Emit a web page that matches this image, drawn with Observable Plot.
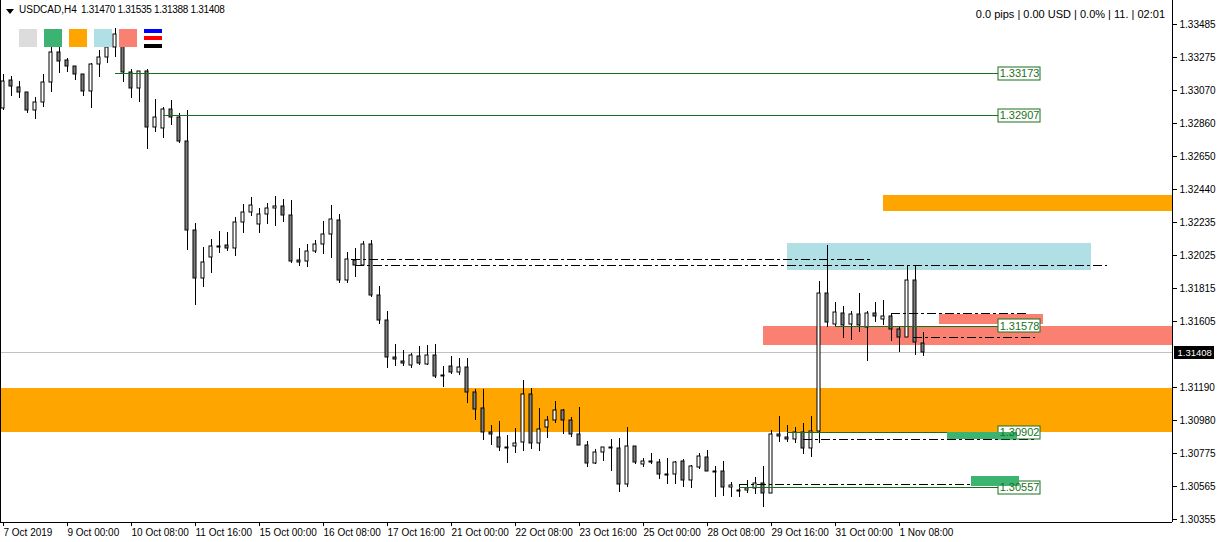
<!DOCTYPE html>
<html><head><meta charset="utf-8">
<script src="https://cdn.jsdelivr.net/npm/d3@7"></script>
<script src="https://cdn.jsdelivr.net/npm/@observablehq/plot@0.6"></script>
<style>
body{margin:0;background:#fff;font-family:"Liberation Sans",Arial,sans-serif;}
#wrap{position:relative;width:1217px;height:542px;overflow:hidden;}
#wrap svg{display:block;}
.ov{position:absolute;color:#000;white-space:pre;}
.sq{position:absolute;top:29px;width:18px;height:18px;}
</style></head>
<body><div id="wrap"></div>
<script>
const symbolTitle = "USDCAD,H4";
const ohlcTitle = "1.31470 1.31535 1.31388 1.31408";
const infoText = "0.0 pips | 0.00 USD | 0.0% | 11. | 02:01";

const opens = [1.32954,1.33131,1.33087,1.33055,1.32942,1.32992,1.33119,1.33308,1.33258,1.33220,
1.33169,1.33062,1.33232,1.33277,1.33340,1.33384,1.33182,1.33081,1.33188,1.32834,
1.32828,1.32948,1.32897,1.32746,1.32182,1.31879,1.32012,1.32081,1.32088,1.32069,
1.32233,1.32296,1.32220,1.32283,1.32321,1.32334,1.32277,1.31993,1.31987,1.32050,
1.32094,1.32157,1.32246,1.31866,1.31993,1.31961,1.32094,1.31771,1.31614,1.31379,
1.31354,1.31329,1.31386,1.31335,1.31392,1.31266,1.31322,1.31285,1.31316,1.31158,
1.31057,1.30906,1.30874,1.30811,1.30817,1.30842,1.31146,1.30836,1.30937,1.30982,
1.31045,1.30982,1.30893,1.30823,1.30710,1.30779,1.30811,1.30804,1.30577,1.30817,
1.30703,1.30722,1.30716,1.30640,1.30640,1.30722,1.30602,1.30684,1.30748,1.30659,
1.30659,1.30558,1.30539,1.30539,1.30551,1.30583,1.30520,1.30893,1.30874,1.30861,
1.30906,1.30804,1.30912,1.31784,1.31588,1.31658,1.31588,1.31651,1.31569,1.31658,
1.31620,1.31639,1.31557,1.31506,1.31866,1.31470];

const highs = [1.33169,1.33156,1.33125,1.33055,1.33024,1.33169,1.33365,1.33365,1.33270,1.33220,
1.33169,1.33239,1.33321,1.33428,1.33460,1.33447,1.33201,1.33188,1.33201,1.33011,
1.32961,1.33005,1.32923,1.32942,1.32227,1.32075,1.32125,1.32176,1.32170,1.32264,
1.32347,1.32392,1.32321,1.32353,1.32398,1.32379,1.32372,1.32069,1.32094,1.32119,
1.32239,1.32340,1.32283,1.32044,1.32069,1.32113,1.32119,1.31828,1.31670,1.31462,
1.31424,1.31405,1.31449,1.31455,1.31462,1.31322,1.31386,1.31373,1.31373,1.31177,
1.31177,1.30950,1.30975,1.30887,1.30931,1.31234,1.31184,1.31057,1.31007,1.31102,
1.31051,1.31000,1.31064,1.30849,1.30798,1.30811,1.30861,1.30868,1.30937,1.30817,
1.30741,1.30773,1.30735,1.30741,1.30722,1.30735,1.30697,1.30773,1.30792,1.30691,
1.30722,1.30589,1.30577,1.30602,1.30621,1.30691,1.30918,1.31007,1.30950,1.30937,
1.30963,1.31007,1.31860,1.32088,1.31727,1.31702,1.31670,1.31784,1.31670,1.31727,
1.31740,1.31658,1.31569,1.31961,1.31961,1.31535];

const lows = [1.32942,1.33030,1.33017,1.32923,1.32885,1.32961,1.33055,1.33175,1.33182,1.33131,
1.33030,1.32954,1.33150,1.33239,1.33277,1.33119,1.33017,1.32992,1.32695,1.32803,
1.32765,1.32847,1.32734,1.32056,1.31708,1.31822,1.31911,1.32037,1.32050,1.32018,
1.32163,1.32271,1.32163,1.32220,1.32208,1.32233,1.31974,1.31955,1.31949,1.32037,
1.32031,1.32006,1.31847,1.31847,1.31885,1.31955,1.31759,1.31588,1.31310,1.31322,
1.31322,1.31310,1.31329,1.31329,1.31247,1.31190,1.31272,1.31266,1.31089,1.30982,
1.30855,1.30823,1.30785,1.30710,1.30773,1.30785,1.30798,1.30785,1.30868,1.30963,
1.30893,1.30874,1.30823,1.30684,1.30703,1.30722,1.30659,1.30526,1.30558,1.30703,
1.30684,1.30703,1.30608,1.30577,1.30577,1.30558,1.30551,1.30672,1.30659,1.30494,
1.30501,1.30494,1.30494,1.30520,1.30513,1.30431,1.30520,1.30842,1.30842,1.30836,
1.30767,1.30748,1.30836,1.31569,1.31576,1.31500,1.31487,1.31538,1.31354,1.31601,
1.31582,1.31481,1.31411,1.31506,1.31392,1.31388];

const closes = [1.33125,1.33093,1.33055,1.32942,1.32992,1.33119,1.33308,1.33251,1.33220,1.33169,
1.33062,1.33232,1.33277,1.33340,1.33422,1.33182,1.33081,1.33188,1.32834,1.32897,
1.32948,1.32897,1.32746,1.32182,1.31879,1.31980,1.32081,1.32075,1.32069,1.32233,
1.32296,1.32340,1.32283,1.32321,1.32334,1.32277,1.31987,1.31980,1.32050,1.32094,
1.32157,1.32252,1.31866,1.31999,1.31961,1.32094,1.31771,1.31614,1.31379,1.31367,
1.31341,1.31392,1.31341,1.31392,1.31259,1.31259,1.31285,1.31316,1.31158,1.31051,
1.30906,1.30893,1.30811,1.30811,1.30836,1.31146,1.30836,1.30925,1.30982,1.31045,
1.30982,1.30893,1.30823,1.30710,1.30779,1.30811,1.30811,1.30577,1.30817,1.30716,
1.30722,1.30722,1.30640,1.30640,1.30716,1.30602,1.30691,1.30754,1.30659,1.30659,
1.30558,1.30570,1.30539,1.30551,1.30583,1.30520,1.30893,1.30880,1.30861,1.30906,
1.30804,1.30912,1.31784,1.31601,1.31664,1.31582,1.31651,1.31582,1.31658,1.31639,
1.31639,1.31557,1.31506,1.31866,1.31475,1.31408];

const xTickBars = [0,8,16,24,32,40,48,56,64,72,80,88,96,104,112];
const xTickLabels = ["7 Oct 2019","9 Oct 00:00","10 Oct 08:00","11 Oct 16:00","15 Oct 00:00","16 Oct 08:00","17 Oct 16:00","21 Oct 00:00","22 Oct 08:00","23 Oct 16:00","25 Oct 00:00","28 Oct 08:00","29 Oct 16:00","31 Oct 00:00","1 Nov 08:00"];
const yTicks = [1.33485,1.33275,1.33070,1.32860,1.32650,1.32440,1.32235,1.32025,1.31815,1.31605,1.31190,1.30980,1.30775,1.30565,1.30355];

const levels = [1.33173,1.32907,1.31578,1.30902,1.30557];
const levelStart = [14,20,104,98,92];

const zoneX1 = [-1,110,98,95,117,118,121];
const zoneX2 = [150,150,136,150,130,126.75,127];
const zoneTop = [1.31184,1.32404,1.32100,1.31576,1.31651,1.30906,1.30627];
const zoneBottom = [1.30906,1.32302,1.31929,1.31455,1.31588,1.30861,1.30564];
const zoneColor = ["#FFA500","#FFA500","#B0E0E6","#FA8072","#FA8072","#3CB371","#3CB371"];

const dashY = [1.31999,1.31961,1.31658,1.31506,1.30861,1.30577];
const dashX1 = [43.5,44,111,113.75,100,92];
const dashX2 = [108.4,138,128,129,129,128.75];

// ---- build tables
const bars = opens.map((o,i)=>({i, o, h:highs[i], l:lows[i], c:closes[i]}));
const lastClose = closes[closes.length-1];
const xDomain = [-0.375, 146.125];
const yDomain = [1.30336, 1.33637];
const W = 1217, H = 542, mR = 45, mB = 20;
const pxPrice = (yDomain[1]-yDomain[0]) / (H - mB);
const labelMap = new Map(xTickBars.map((b,i)=>[b, xTickLabels[i]]));
const fmt = d3.format(".5f");
const zones = zoneX1.map((x1,i)=>({x1, x2:zoneX2[i], y1:zoneTop[i], y2:zoneBottom[i], fill:zoneColor[i]}));
const bgZones = zones.filter(z=>z.fill!=="#3CB371");
const fgZones = zones.filter(z=>z.fill==="#3CB371");
const levelRows = levels.map((y,i)=>({y, start:levelStart[i]}));
const boxX1 = 124.375, boxX2 = 129.625;
const dashRows = dashY.map((y,i)=>({y, x1:dashX1[i], x2:dashX2[i]}));
const green = "#1a701a";

const chart = Plot.plot({
  width: W, height: H,
  marginLeft: 0, marginRight: mR, marginTop: 0, marginBottom: mB,
  x: {type:"linear", domain: xDomain, round: true},
  y: {domain: yDomain, round: true},
  style: {fontFamily: "'Liberation Sans', Arial, sans-serif", fontSize: "10px", background: "white", color: "black", overflow: "visible"},
  marks: [
    Plot.rect(bgZones, {x1:"x1", x2:"x2", y1:"y1", y2:"y2", fill:"fill", clip:true}),
    Plot.ruleY([lastClose], {stroke:"#c0c0c0"}),
    Plot.ruleX(bars, {x:"i", y1:"l", y2:"h", stroke:"black"}),
    Plot.rect(bars, {
      x1: d=>d.i-0.25, x2: d=>d.i+0.125,
      y1: "o",
      y2: d=> Math.abs(d.c-d.o) < pxPrice ? d.o - pxPrice : d.c,
      fill: d=> d.c > d.o ? "white" : "#808080",
      stroke: "black", strokeWidth: 1
    }),
    Plot.ruleY(levelRows, {y:"y", x1:"start", x2: boxX1, stroke: green}),
    Plot.ruleY(dashRows, {y:"y", x1:"x1", x2:"x2", stroke:"black", strokeDasharray:"9,3,3,3"}),
    Plot.rect(levelRows, {x1: boxX1, x2: boxX2, y1: d=>d.y - 6.5*pxPrice, y2: d=>d.y + 6.5*pxPrice, fill:"white", stroke: green}),
    Plot.rect(fgZones, {x1:"x1", x2:"x2", y1:"y1", y2:"y2", fill:"fill", clip:true}),
    Plot.text(levelRows, {x: (boxX1+boxX2)/2, y:"y", text: d=>fmt(d.y), fill: green, fontSize: 11}),
    Plot.ruleX([xDomain[0], xDomain[1]], {stroke:"black"}),
    Plot.ruleY([yDomain[0]], {stroke:"black"}),
    Plot.axisY({anchor:"right", ticks: yTicks, tickFormat: fmt, tickSize: 4, tickPadding: 3, fontSize: 10}),
    Plot.axisX({anchor:"bottom", ticks: xTickBars, tickFormat: d=>labelMap.get(d), tickSize: 4, tickPadding: 2, textAnchor:"start", fontSize: 10}),
    Plot.ruleY([lastClose], {x1: xDomain[1]+0.25, x2: xDomain[1]+5.25, stroke:"black", strokeWidth: 13}),
    Plot.text([lastClose], {y: d=>d, frameAnchor:"right", dx: 5, textAnchor:"start", fill:"white", text: d=>fmt(d), fontSize: 9.5})
  ]
});
const wrap = document.getElementById("wrap");
wrap.appendChild(chart);

// header overlays
function addDiv(cls, css, txt){ const e=document.createElement("div"); e.className=cls; e.style.cssText=css; if(txt) e.textContent=txt; wrap.appendChild(e); return e; }
addDiv("ov","left:6px;top:9px;width:0;height:0;border-left:4px solid transparent;border-right:4px solid transparent;border-top:5px solid #000;");
addDiv("ov","left:19px;top:4px;font-size:10px;", symbolTitle);
addDiv("ov","left:81px;top:4px;font-size:10px;letter-spacing:-0.3px;", ohlcTitle);
addDiv("ov","right:52px;top:8px;font-size:11px;", infoText);
const legendColors = ["#DCDCDC","#3CB371","#FFA500","#B0E0E6","#FA8072"];
legendColors.forEach((c,i)=> addDiv("sq", `left:${19+25*i}px;background:${c};`));
addDiv("ov",`left:144px;top:29px;width:18px;height:4px;background:#0000FF;`);
addDiv("ov",`left:144px;top:36px;width:18px;height:4px;background:#FF0000;`);
addDiv("ov",`left:144px;top:44px;width:18px;height:4px;background:#000;`);
</script>
</body></html>
